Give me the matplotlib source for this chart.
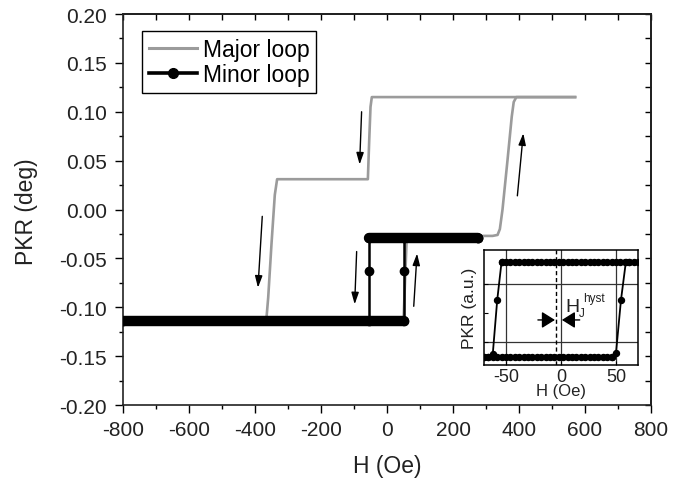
import matplotlib
matplotlib.use('Agg')
import matplotlib.pyplot as plt
from matplotlib.lines import Line2D
from matplotlib.ticker import MultipleLocator, FixedLocator, FormatStrFormatter

plt.rcParams['font.family'] = ['Liberation Sans', 'DejaVu Sans']
plt.rcParams['axes.unicode_minus'] = False

# ---------------- data ----------------
# Major loop (gray), field sweep down and up
major_desc_H = [570, -46, -50, -54, -58, -333, -340, -350, -360, -366, -800]
major_desc_R = [0.115, 0.115, 0.105, 0.07, 0.031, 0.031, 0.015, -0.035, -0.09, -0.114, -0.114]
major_asc_H = [-800, 50, 55, 60, 320, 335, 342, 350, 365, 378, 384, 392, 570]
major_asc_R = [-0.114, -0.114, -0.07, -0.027, -0.027, -0.026, -0.02, 0.0, 0.05, 0.095, 0.11, 0.115, 0.115]

# Minor loop (black)
minor_H = [275, -56, -56, -56, -800, 51, 51, 51, 275]
minor_R = [-0.029, -0.029, -0.0626, -0.114, -0.114, -0.114, -0.0626, -0.029, -0.029]

# Inset: minor loop detail (normalised units)
inset_top_H = [70, 66, 62, 58, 54, 50, 46, 42, 38, 34, 30, 26, 22, 18, 14, 10, 6, 2,
               -2, -6, -10, -14, -18, -22, -26, -30, -34, -38, -42, -46, -50, -54]
inset_top_R = [0.885] * len(inset_top_H)
inset_desc_H = [-54, -58, -62, -66, -70]
inset_desc_R = [0.885, 0.22, -0.70, -0.76, -0.76]
inset_bot_H = [-70, -66, -62, -58, -54, -50, -46, -42, -38, -34, -30, -26, -22, -18, -14,
               -10, -6, -2, 2, 6, 10, 14, 18, 22, 26, 30, 34, 38, 42, 46]
inset_bot_R = [-0.76] * len(inset_bot_H)
inset_asc_H = [46, 50, 54.5, 59, 62]
inset_asc_R = [-0.76, -0.69, 0.22, 0.885, 0.885]
inset_Hj_line = -5

x_ticks = [-800, -600, -400, -200, 0, 200, 400, 600, 800]
y_ticks = [-0.20, -0.15, -0.10, -0.05, 0.00, 0.05, 0.10, 0.15, 0.20]
inset_x_ticks = [-50, 0, 50]

GRAY = '#9b9b9b'
TXT = '#222222'

fig = plt.figure(figsize=(6.86, 4.81), dpi=100)
ax = fig.add_axes([0.1793, 0.1559, 0.7697, 0.8129])

ax.plot(major_desc_H, major_desc_R, color=GRAY, lw=1.9, zorder=2, solid_joinstyle='round')
ax.plot(major_asc_H, major_asc_R, color=GRAY, lw=1.9, zorder=2, solid_joinstyle='round')

# thick plateaus of the minor loop (dense markers)
ax.plot([minor_H[1], minor_H[0]], [minor_R[1], minor_R[0]], color='k', lw=7.5,
        solid_capstyle='round', zorder=3)
ax.plot([minor_H[4], minor_H[5]], [minor_R[4], minor_R[5]], color='k', lw=7.5,
        solid_capstyle='round', zorder=3)
ax.plot(minor_H, minor_R, color='k', lw=1.8, marker='o', ms=6, zorder=4)

ax.set_xlim(-800, 800)
ax.set_ylim(-0.20, 0.20)
ax.set_xticks(x_ticks)
ax.set_yticks(y_ticks)
ax.yaxis.set_major_formatter(FormatStrFormatter('%.2f'))
ax.xaxis.set_minor_locator(MultipleLocator(100))
ax.yaxis.set_minor_locator(MultipleLocator(0.025))
ax.tick_params(which='major', direction='out', length=5.5, width=1, labelsize=15,
               labelcolor=TXT)
ax.tick_params(axis='x', which='major', pad=5.5)
ax.tick_params(axis='y', which='major', pad=6)
ax.tick_params(which='minor', direction='out', length=2.8, width=1)
for s in ax.spines.values():
    s.set_linewidth(1.2)
    s.set_color(TXT)

secx = ax.secondary_xaxis('top')
secx.set_xticks(x_ticks)
secx.xaxis.set_minor_locator(MultipleLocator(100))
secx.tick_params(which='both', direction='in', length=4, width=1, labeltop=False)
secx.spines['top'].set_linewidth(1.2)
secy = ax.secondary_yaxis('right')
secy.set_yticks(y_ticks)
secy.yaxis.set_minor_locator(MultipleLocator(0.025))
secy.tick_params(which='both', direction='in', length=4, width=1, labelright=False)
secy.spines['right'].set_linewidth(1.2)

fig.text(387 / 686, 1 - 467 / 481, 'H (Oe)', ha='center', va='center', fontsize=16.5, color=TXT)
fig.text(27 / 686, 1 - 212 / 481, 'PKR (deg)', ha='center', va='center', rotation=90,
         fontsize=16.5, color=TXT)

handles = [Line2D([], [], color=GRAY, lw=2.2),
           Line2D([], [], color='k', lw=2.6, marker='o', ms=7)]
leg = ax.legend(handles, ['Major loop', 'Minor loop'], loc='upper left',
                bbox_to_anchor=(0.036, 0.957), borderaxespad=0, fontsize=16.5,
                frameon=True, fancybox=False, edgecolor='k', framealpha=1,
                handlelength=2.1, handletextpad=0.25, labelspacing=0.1, borderpad=0.3)
leg.get_frame().set_linewidth(1)

# arrows (direction of field sweep)
arrows = [((-378, -0.007), (-391, -0.080)),
          ((-77, 0.100), (-83, 0.046)),
          ((395, 0.014), (413, 0.078)),
          ((-92, -0.043), (-98, -0.097)),
          ((81, -0.099), (91, -0.045))]
for tail, head in arrows:
    ax.annotate('', xy=head, xytext=tail,
                arrowprops=dict(arrowstyle='-|>,head_length=0.7,head_width=0.22',
                                color='k', lw=1, shrinkA=0, shrinkB=0), zorder=5)

# ---------------- inset ----------------
ins = fig.add_axes([484 / 686, 1 - 366 / 481, 154 / 686, 115 / 481])
ins.set_facecolor('white')
ins.set_zorder(10)
for hh, rr in [(inset_top_H, inset_top_R), (inset_desc_H, inset_desc_R),
               (inset_bot_H, inset_bot_R), (inset_asc_H, inset_asc_R)]:
    ins.plot(hh, rr, color='k', lw=1.3, marker='o', ms=4.3)
ins.axvline(inset_Hj_line, color='k', lw=1, ls=(0, (3, 2)))
ins.set_xlim(-70, 70)
ins.set_ylim(-0.897, 1.086)
ins.set_xticks(inset_x_ticks)
ins.yaxis.set_major_locator(FixedLocator([-0.5, 0.5]))
ins.yaxis.set_minor_locator(FixedLocator([0.0]))
ins.set_yticklabels([])
ins.grid(True, which='major', color='#333333', lw=0.9)
ins.tick_params(which='both', direction='in', length=3, width=0.8, labelsize=13,
                labelcolor=TXT, pad=2)
for s in ins.spines.values():
    s.set_linewidth(1.1)
ins.set_xlabel('H (Oe)', fontsize=12, color=TXT, labelpad=-1)
ins.set_ylabel('PKR (a.u.)', fontsize=12.5, color=TXT, labelpad=3)

ins.annotate('', xy=(-5.5, -0.12), xytext=(-21, -0.12),
             arrowprops=dict(arrowstyle='-|>,head_length=0.8,head_width=0.5',
                             color='k', lw=1, shrinkA=0, shrinkB=0))
ins.annotate('', xy=(0.8, -0.12), xytext=(17, -0.12),
             arrowprops=dict(arrowstyle='-|>,head_length=0.8,head_width=0.5',
                             color='k', lw=1, shrinkA=0, shrinkB=0))
ins.text(3.6, 0.034, 'H', fontsize=14, color=TXT, va='baseline', ha='left')
ins.text(16.2, -0.06, 'J', fontsize=8.5, color=TXT, va='baseline', ha='left')
ins.text(20.5, 0.21, 'hyst', fontsize=8.5, color=TXT, va='baseline', ha='left')

fig.savefig('out.png', dpi=100)
